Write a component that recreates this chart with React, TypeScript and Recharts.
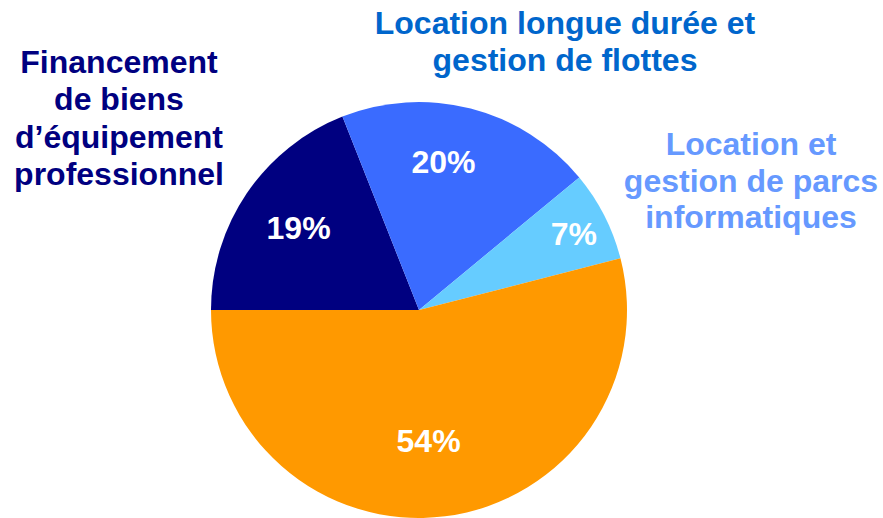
import { PieChart, Pie, Cell } from "recharts";

const categories = [
  "Financement de biens d’équipement professionnel",
  "Location longue durée et gestion de flottes",
  "Location et gestion de parcs informatiques",
  "Autres",
];
const shares = [19, 20, 7, 54];
const nameLines = [
  ["Financement", "de biens", "d’équipement", "professionnel"],
  ["Location longue durée et", "gestion de flottes"],
  ["Location et", "gestion de parcs", "informatiques"],
  [],
];

const sliceColors = ["#000080", "#3A6BFF", "#66CCFF", "#FF9900"];
const nameColors = ["#000080", "#0066CC", "#6699FF", "#FF9900"];

// label tweaks: radius factor + angle nudge for %, and name block offset from center
const pctPlace = [
  { r: 0.7, da: 0 },
  { r: 0.72, da: 5 },
  { r: 0.83, da: -0.7 },
  { r: 0.63, da: -3 },
];
const namePlace = [
  { dx: -300, dy: -237, lh: 37.3 },
  { dx: 146, dy: -276, lh: 37 },
  { dx: 332, dy: -155, lh: 36.5 },
  { dx: 0, dy: 0, lh: 0 },
];

const data = categories.map((name, i) => ({ name, value: shares[i] }));

const FONT = "'Liberation Sans', Arial, sans-serif";
const RAD = Math.PI / 180;

function renderLabel(props: any) {
  const { cx, cy, midAngle, outerRadius, index, value } = props;
  const p = pctPlace[index];
  const a = (midAngle + p.da) * RAD;
  const r = outerRadius * p.r;
  const x = cx + r * Math.cos(a);
  const y = cy - r * Math.sin(a);
  const n = namePlace[index];
  return (
    <g>
      <text
        x={x}
        y={y}
        fill="#fff"
        textAnchor="middle"
        dominantBaseline="central"
        fontFamily={FONT}
        fontWeight="bold"
        fontSize={32}
      >
        {value}%
      </text>
      {nameLines[index].map((line, k) => (
        <text
          key={k}
          x={cx + n.dx}
          y={cy + n.dy + k * n.lh}
          fill={nameColors[index]}
          textAnchor="middle"
          fontFamily={FONT}
          fontWeight="bold"
          fontSize={32}
        >
          {line}
        </text>
      ))}
    </g>
  );
}

export default function App() {
  return (
    <div style={{ position: "absolute", left: 0, top: 0, width: 883, height: 518, background: "#fff" }}>
      <PieChart width={883} height={518} margin={{ top: 0, right: 0, bottom: 0, left: 0 }}>
        <Pie
          data={data}
          dataKey="value"
          nameKey="name"
          cx={419}
          cy={310}
          outerRadius={208}
          startAngle={180}
          endAngle={-180}
          stroke="none"
          label={renderLabel}
          labelLine={false}
          isAnimationActive={false}
        >
          {data.map((d, i) => (
            <Cell key={d.name} fill={sliceColors[i]} />
          ))}
        </Pie>
      </PieChart>
    </div>
  );
}
